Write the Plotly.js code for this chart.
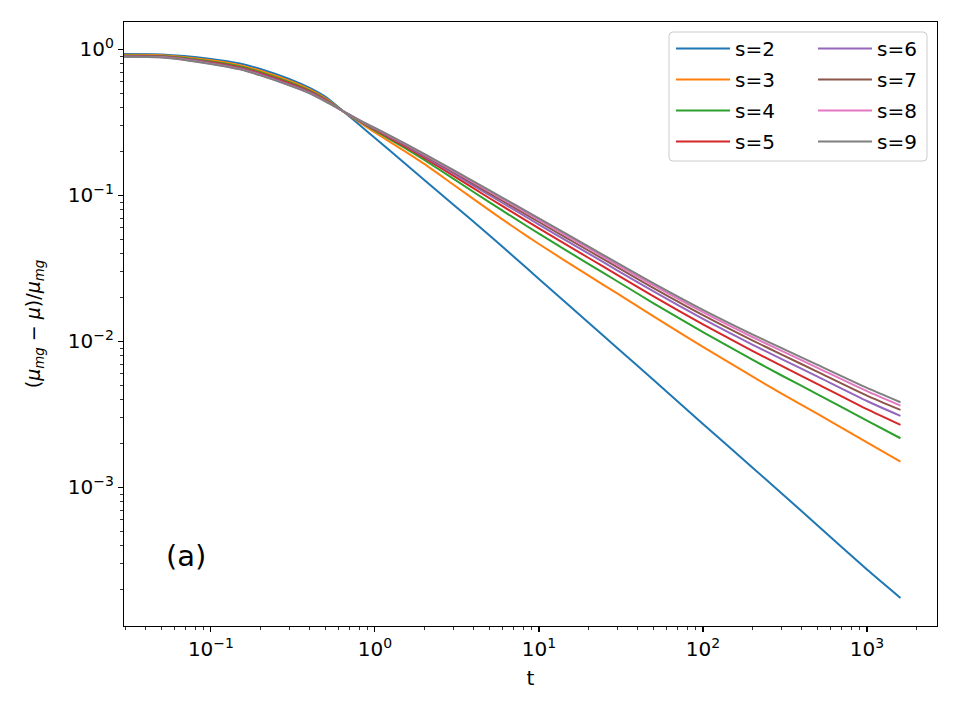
<!DOCTYPE html>
<html>
<head>
<meta charset="utf-8">
<script src="https://cdn.plot.ly/plotly-3.0.1.min.js"></script>
<style>
  html, body { margin: 0; padding: 0; background: #fff; }
  #chart { width: 960px; height: 720px; }
</style>
</head>
<body>
<div id="chart"></div>
<script>
// Relative deviation (mu_mg - mu)/mu_mg versus time t, for s = 2 ... 9
const t = [0.01, 0.05, 0.1, 0.15, 0.2, 0.3, 0.4, 0.5, 0.65, 0.8, 1, 1.5, 2, 3, 5, 7, 10, 20, 30, 50, 100, 200, 300, 500, 1000, 1600];

const s2 = [0.924, 0.924, 0.861, 0.802, 0.735, 0.628, 0.545, 0.473, 0.372, 0.306, 0.2476, 0.168, 0.1277, 0.0868, 0.0532, 0.0382, 0.0268, 0.01349, 0.00903, 0.00545, 0.002722, 0.001371, 0.000917, 0.000549, 0.000274, 0.0001751];
const s3 = [0.912, 0.912, 0.842, 0.781, 0.714, 0.610, 0.532, 0.463, 0.372, 0.319, 0.270, 0.203, 0.1644, 0.1189, 0.0790, 0.0608, 0.0465, 0.02832, 0.02132, 0.01483, 0.00917, 0.005759, 0.004404, 0.003187, 0.002033, 0.001502];
const s4 = [0.903, 0.903, 0.828, 0.765, 0.699, 0.597, 0.522, 0.456, 0.373, 0.323, 0.278, 0.2132, 0.175, 0.1303, 0.0896, 0.0704, 0.0547, 0.0340, 0.02584, 0.01826, 0.01158, 0.0075, 0.005868, 0.004343, 0.002867, 0.002173];
const s5 = [0.896, 0.896, 0.817, 0.753, 0.687, 0.587, 0.515, 0.451, 0.373, 0.325, 0.282, 0.2185, 0.181, 0.1367, 0.0957, 0.0759, 0.0595, 0.03743, 0.02859, 0.02038, 0.01309, 0.008627, 0.006823, 0.005108, 0.003435, 0.00268];
const s6 = [0.890, 0.890, 0.809, 0.744, 0.678, 0.579, 0.509, 0.447, 0.373, 0.3265, 0.285, 0.2225, 0.1852, 0.1415, 0.1003, 0.0802, 0.0632, 0.0401, 0.03072, 0.02203, 0.01429, 0.009526, 0.007597, 0.005734, 0.003908, 0.003088];
const s7 = [0.887, 0.887, 0.803, 0.738, 0.672, 0.574, 0.505, 0.444, 0.373, 0.3275, 0.287, 0.2251, 0.1882, 0.1448, 0.1035, 0.0831, 0.0658, 0.04197, 0.03224, 0.0232, 0.01514, 0.01018, 0.008162, 0.006196, 0.004258, 0.003395];
const s8 = [0.884, 0.884, 0.799, 0.733, 0.667, 0.570, 0.502, 0.442, 0.374, 0.3283, 0.2887, 0.2272, 0.1906, 0.1475, 0.1062, 0.0856, 0.0679, 0.04354, 0.0335, 0.02419, 0.01586, 0.01073, 0.008647, 0.00659, 0.004562, 0.003634];
const s9 = [0.882, 0.882, 0.796, 0.730, 0.664, 0.567, 0.500, 0.440, 0.374, 0.329, 0.290, 0.2289, 0.1924, 0.1495, 0.1082, 0.0875, 0.0696, 0.04475, 0.03449, 0.02496, 0.01644, 0.01117, 0.009028, 0.006902, 0.004803, 0.003833];

const seriesNames = ['s=2', 's=3', 's=4', 's=5', 's=6', 's=7', 's=8', 's=9'];
const seriesValues = [s2, s3, s4, s5, s6, s7, s8, s9];
const colors = ['#1f77b4', '#ff7f0e', '#2ca02c', '#d62728', '#9467bd', '#8c564b', '#e377c2', '#7f7f7f'];

const xTickVals = [0.1, 1, 10, 100, 1000];
const xTickText = ['10<sup>\u22121</sup>', '10<sup>0</sup>', '10<sup>1</sup>', '10<sup>2</sup>', '10<sup>3</sup>'];
const yTickVals = [0.001, 0.01, 0.1, 1];
const yTickText = ['10<sup>\u22123</sup>', '10<sup>\u22122</sup>', '10<sup>\u22121</sup>', '10<sup>0</sup>'];

// minor ticks at 2..9 within each decade
function minorTicks(d0, d1) {
  const v = [];
  for (let d = d0; d <= d1; d++) {
    for (let k = 2; k <= 9; k++) v.push(k * Math.pow(10, d));
  }
  return v;
}

const traces = seriesValues.map((vals, i) => ({
  type: 'scatter',
  mode: 'lines',
  x: t,
  y: vals,
  name: seriesNames[i],
  legend: i < 4 ? 'legend' : 'legend2',
  legendgroup: seriesNames[i],
  line: { color: colors[i], width: 2, shape: 'spline', smoothing: 0.6 }
}));

const W = 960, H = 720;
const M = { l: 124, r: 23, t: 22, b: 94 };
const PW = W - M.l - M.r, PH = H - M.t - M.b;

// rounded frame behind the two legend columns (paper coordinates)
function roundedRect(x0, y0, x1, y1, r) {
  const rx = r / PW, ry = r / PH;
  return `M${x0 + rx},${y1} L${x1 - rx},${y1} Q${x1},${y1} ${x1},${y1 - ry} ` +
         `L${x1},${y0 + ry} Q${x1},${y0} ${x1 - rx},${y0} ` +
         `L${x0 + rx},${y0} Q${x0},${y0} ${x0},${y0 + ry} ` +
         `L${x0},${y1 - ry} Q${x0},${y1} ${x0 + rx},${y1} Z`;
}
const px2x = p => (p - M.l) / PW;
const px2y = p => (H - M.b - p) / PH;

const axisCommon = {
  type: 'log',
  showgrid: false,
  zeroline: false,
  showline: true,
  linecolor: '#000',
  linewidth: 1.1,
  mirror: true,
  ticks: 'outside',
  ticklen: 5,
  tickwidth: 1.1,
  tickcolor: '#000',
  tickmode: 'array',
  tickfont: { family: 'DejaVu Sans', size: 20, color: '#000' }
};

const legendCommon = {
  xanchor: 'left', yanchor: 'top',
  bgcolor: 'rgba(0,0,0,0)', borderwidth: 0,
  font: { family: 'DejaVu Sans', size: 20, color: '#000' },
  tracegroupgap: 2, itemwidth: 54
};

const layout = {
  width: W,
  height: H,
  margin: M,
  paper_bgcolor: '#fff',
  plot_bgcolor: '#fff',
  font: { family: 'DejaVu Sans', size: 20, color: '#000' },
  showlegend: true,
  xaxis: Object.assign({}, axisCommon, {
    range: [-1.53, 3.427],
    tickvals: xTickVals,
    ticktext: xTickText,
    minor: { tickmode: 'array', tickvals: minorTicks(-2, 3), ticks: 'outside', ticklen: 3, tickwidth: 0.8, tickcolor: '#000' },
    title: { text: 't', font: { family: 'DejaVu Sans', size: 20, color: '#000' }, standoff: 10 }
  }),
  yaxis: Object.assign({}, axisCommon, {
    range: [-3.949, 0.188],
    tickvals: yTickVals,
    ticktext: yTickText,
    minor: { tickmode: 'array', tickvals: minorTicks(-4, 0), ticks: 'outside', ticklen: 3, tickwidth: 0.8, tickcolor: '#000' },
    title: {
      text: '(<i>\u03bc</i><sub><i>mg</i></sub> \u2212 <i>\u03bc</i>)/<i>\u03bc</i><sub><i>mg</i></sub>',
      font: { family: 'DejaVu Sans', size: 19, color: '#000' },
      standoff: 22
    }
  }),
  legend: Object.assign({ x: px2x(671), y: px2y(29) }, legendCommon),
  legend2: Object.assign({ x: px2x(813), y: px2y(29) }, legendCommon),
  shapes: [{
    type: 'path', xref: 'paper', yref: 'paper', layer: 'above',
    path: roundedRect(px2x(669), px2y(161), px2x(927), px2y(32), 4),
    fillcolor: 'rgba(255,255,255,0.8)',
    line: { color: '#cccccc', width: 1 }
  }],
  annotations: [{
    xref: 'paper', yref: 'paper', x: px2x(164), y: px2y(556),
    xanchor: 'left', yanchor: 'middle', showarrow: false,
    text: '(a)', font: { family: 'DejaVu Sans', size: 29, color: '#000' }
  }]
};

Plotly.newPlot('chart', traces, layout, { displayModeBar: false, staticPlot: true });
</script>
</body>
</html>
